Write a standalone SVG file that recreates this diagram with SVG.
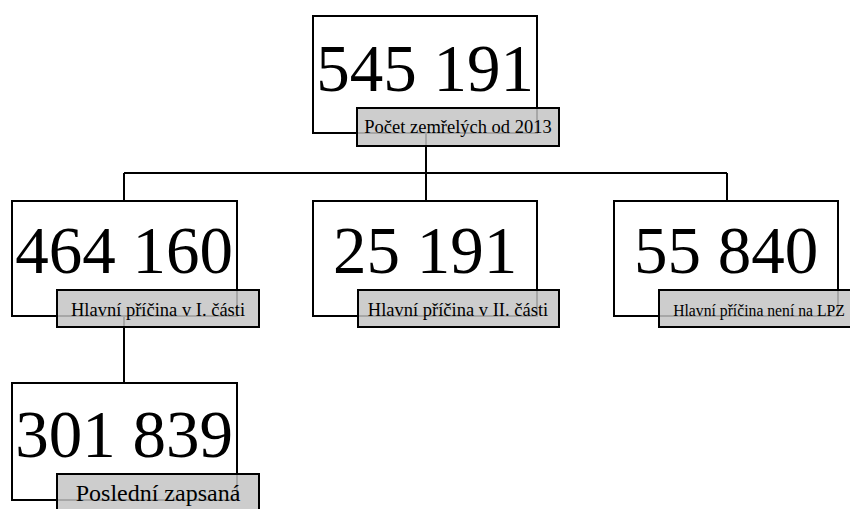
<svg xmlns="http://www.w3.org/2000/svg" width="850" height="509" viewBox="0 0 850 509" font-family="'Liberation Serif', 'Times New Roman', Times, 'DejaVu Serif', serif">
<style>
.box{fill:#fff;stroke:#000;stroke-width:2}
.lbl{fill:#c4c4c4;fill-opacity:0.85;stroke:#000;stroke-width:2}
.num{font-size:67px;text-anchor:middle;fill:#000}
.t{text-anchor:middle;fill:#000}
.con{fill:none;stroke:#000;stroke-width:2}
</style>
<rect width="850" height="509" fill="#fff"/>
<g id="n1">
<rect class="box" x="313" y="16" width="224" height="117"/>
<text class="num" x="425" y="91">545 191</text>
</g>
<g id="n2">
<rect class="box" x="12" y="201" width="225" height="115"/>
<text class="num" x="124" y="273">464 160</text>
</g>
<g id="n3">
<rect class="box" x="313" y="201" width="224" height="115"/>
<text class="num" x="425" y="273">25 191</text>
</g>
<g id="n4">
<rect class="box" x="614" y="201" width="224" height="115"/>
<text class="num" x="726" y="273">55 840</text>
</g>
<g id="n5">
<rect class="box" x="12" y="383" width="225" height="117"/>
<text class="num" x="124" y="457">301 839</text>
</g>
<g id="connectors">
<path class="con" d="M426 133 V173 M124 173 H727 M124 173 V201 M426 173 V201 M727 173 V201 M124 316 V383"/>
</g>
<g id="l1">
<rect class="lbl" x="357" y="108" width="202" height="38"/>
<text class="t" x="458" y="133" font-size="18.5">Počet zemřelých od 2013</text>
</g>
<g id="l2">
<rect class="lbl" x="57" y="290" width="202" height="37"/>
<text class="t" x="158" y="316" font-size="18.5">Hlavní příčina v I. části</text>
</g>
<g id="l3">
<rect class="lbl" x="358" y="290" width="201" height="37"/>
<text class="t" x="458" y="316" font-size="18.5">Hlavní příčina v II. části</text>
</g>
<g id="l4">
<rect class="lbl" x="659" y="290" width="202" height="37"/>
<text class="t" x="759" y="316" font-size="15.7">Hlavní příčina není na LPZ</text>
</g>
<g id="l5">
<rect class="lbl" x="57" y="474" width="202" height="40"/>
<text class="t" x="158" y="501" font-size="24">Poslední zapsaná</text>
</g>
</svg>
